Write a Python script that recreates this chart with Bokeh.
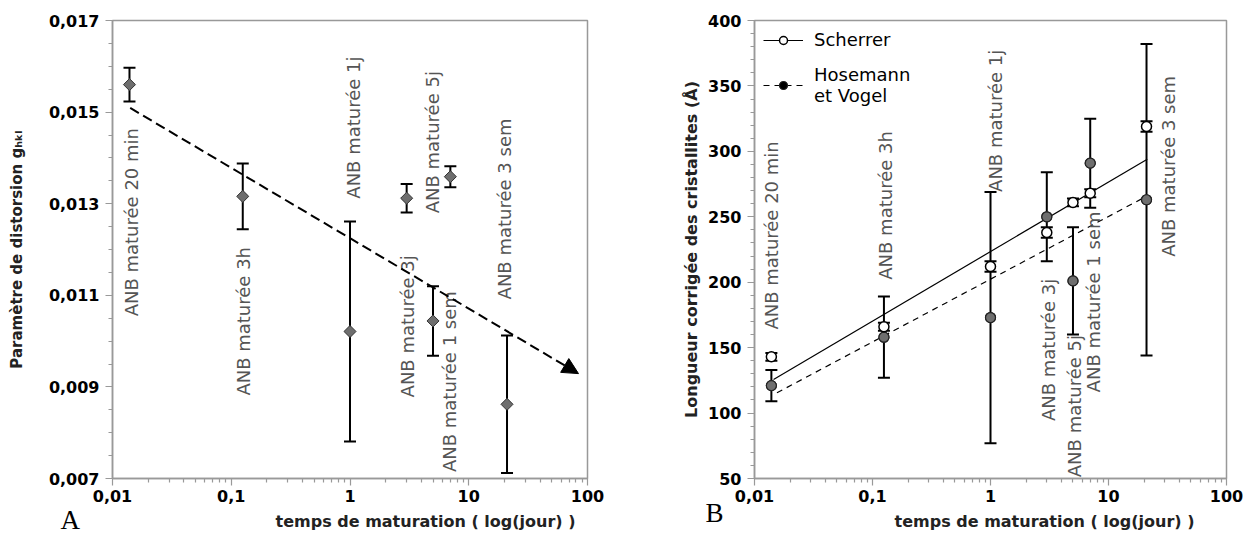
import numpy as np
from bokeh.plotting import figure
from bokeh.layouts import row
from bokeh.models import (ColumnDataSource, Whisker, TeeHead, FixedTicker, CustomJSTickFormatter,
                          Range1d, Label, Title, Arrow, NormalHead, Legend, LegendItem)
from bokeh.embed import file_html
from bokeh.resources import INLINE
from bokeh.core.properties import value

# ---------------- data : panel A ----------------
a_time = [0.0139, 0.125, 1.0, 3.0, 5.0, 7.0, 21.0]
a_g = [0.01560, 0.01316, 0.01021, 0.01312, 0.01044, 0.01359, 0.00862]
a_err = [0.00037, 0.00072, 0.00240, 0.00031, 0.00076, 0.00023, 0.00150]
a_trend_x = [0.0141, 84.0]
a_trend_y = [0.01509, 0.00929]
a_labels = ["ANB maturée 20 min", "ANB maturée 3h", "ANB maturée 1j", "ANB maturée 3j",
            "ANB maturée 5j", "ANB maturée 1 sem", "ANB maturée 3 sem"]
a_label_x = [0.01445, 0.1261, 1.07, 3.05, 4.92, 6.88, 20.0]
a_label_y = [0.01054, 0.00881, 0.01311, 0.00877, 0.01279, 0.00714, 0.01091]
a_yticks = [0.007, 0.009, 0.011, 0.013, 0.015, 0.017]

# ---------------- data : panel B ----------------
b_time = [0.0139, 0.125, 1.0, 3.0, 5.0, 7.0, 21.0]
scherrer = [143, 166, 212, 238, 261, 268, 319]
scherrer_err = [3, 3, 4, 4, 3, 3, 4]
hosemann = [121, 158, 173, 250, 201, 291, 263]
hosemann_err = [12, 31, 96, 34, 41, 34, 119]
sch_fit_x = [0.0145, 21.3]
sch_fit_y = [125.7, 294.0]
hos_fit_x = [0.0155, 21.3]
hos_fit_y = [115.5, 266.0]
b_labels = ["ANB maturée 20 min", "ANB maturée 3h", "ANB maturée 1j", "ANB maturée 3j",
            "ANB maturée 5j", "ANB maturée 1 sem", "ANB maturée 3 sem"]
b_label_x = [0.01405, 0.1284, 1.10, 3.10, 5.15, 7.46, 32.3]
b_label_y = [163.8, 201.9, 269.0, 93.9, 51.0, 115.8, 219.4]
b_yticks = [50, 100, 150, 200, 250, 300, 350, 400]

x_ticks = [0.01, 0.1, 1, 10, 100]
x_minor = [k * 10.0 ** e for e in range(-2, 2) for k in range(2, 10)]

GRAY = "#999999"
TXT = "#555555"
SANS = "DejaVu Sans"


def style(p, yticks, yminor, yfmt, ylabel, ylabel_size, ylabel_standoff, title_offset):
    p.xaxis.ticker = FixedTicker(ticks=x_ticks, minor_ticks=x_minor)
    p.xaxis.formatter = CustomJSTickFormatter(
        code="return tick >= 1 ? tick.toFixed(0) : tick.toString().replace('.', ',');")
    p.yaxis.ticker = FixedTicker(ticks=yticks, minor_ticks=yminor)
    p.yaxis.formatter = CustomJSTickFormatter(code=yfmt)
    for ax in (p.xaxis[0], p.yaxis[0]):
        ax.axis_line_color = GRAY
        ax.axis_line_width = 1.5
        ax.major_tick_line_color = GRAY
        ax.minor_tick_line_color = GRAY
        ax.major_tick_line_width = 1.2
        ax.minor_tick_line_width = 1.2
        ax.major_tick_out = 7
        ax.major_tick_in = 0
        ax.minor_tick_out = 4
        ax.minor_tick_in = 0
        ax.major_label_text_font = SANS
        ax.major_label_text_font_style = "bold"
        ax.major_label_text_font_size = "16px"
        ax.major_label_text_color = "black"
    p.xaxis.major_label_standoff = 4
    p.yaxis.major_label_standoff = 6
    p.yaxis.axis_label = ylabel
    p.yaxis.axis_label_text_font = SANS
    p.yaxis.axis_label_text_font_style = "bold"
    p.yaxis.axis_label_text_font_size = ylabel_size
    p.yaxis.axis_label_text_color = "#222222"
    p.yaxis.axis_label_standoff = ylabel_standoff
    p.xgrid.visible = False
    p.ygrid.visible = False
    p.outline_line_color = GRAY
    p.outline_line_width = 1.5
    p.add_layout(Title(text="temps de maturation ( log(jour) )", align="right",
                       text_font=SANS, text_font_style="bold", text_font_size="16px",
                       text_color="#222222", offset=title_offset), "below")


def frac_to_data(p, fx, fy):
    lx0, lx1 = np.log10(p.x_range.start), np.log10(p.x_range.end)
    y0, y1 = p.y_range.start, p.y_range.end
    return 10 ** (lx0 + fx * (lx1 - lx0)), y0 + fy * (y1 - y0)


# ---------------- panel A ----------------
pa = figure(width=615, height=537, x_axis_type="log", output_backend="svg",
            toolbar_location=None, x_range=Range1d(0.01, 100), y_range=Range1d(0.007, 0.017),
            min_border_left=112, min_border_right=28, min_border_top=20, min_border_bottom=59)
style(pa, a_yticks, list(np.round(np.arange(0.007, 0.01701, 0.0005), 4)),
      "return tick.toFixed(3).replace('.', ',');",
      "Paramètre de distorsion gₕₖₗ", "15px", 20, 12)

srcA = ColumnDataSource(dict(x=a_time, y=a_g,
                             lo=[v - e for v, e in zip(a_g, a_err)],
                             hi=[v + e for v, e in zip(a_g, a_err)]))
pa.add_layout(Arrow(x_start=a_trend_x[0], y_start=a_trend_y[0], x_end=a_trend_x[1], y_end=a_trend_y[1],
                    line_color="black", line_width=2, line_dash="10 5",
                    end=NormalHead(size=16, fill_color="black", line_color="black", line_width=1)))
pa.add_layout(Whisker(source=srcA, base="x", lower="lo", upper="hi", line_color="black", line_width=2,
                      lower_head=TeeHead(size=12, line_width=2, line_color="black"),
                      upper_head=TeeHead(size=12, line_width=2, line_color="black")))
pa.scatter("x", "y", source=srcA, marker="square", angle=np.pi / 4, size=8.5,
           fill_color="#6e6e6e", line_color="#333333", line_width=1)
pa.text(a_label_x, a_label_y, text=a_labels, angle=np.pi / 2, text_align="left",
        text_baseline="middle", text_font=value(SANS), text_font_size="18px", text_color=TXT)
ax_, ay_ = frac_to_data(pa, -52 / 475, -41 / 458)
pa.add_layout(Label(x=ax_, y=ay_, text="A", text_font="Liberation Serif", text_font_size="27px",
                    text_color="black", text_align="left", text_baseline="alphabetic"), "right")

# ---------------- panel B ----------------
pb = figure(width=630, height=537, x_axis_type="log", output_backend="svg",
            toolbar_location=None, x_range=Range1d(0.01, 100), y_range=Range1d(50, 400),
            min_border_left=139, min_border_right=19, min_border_top=20, min_border_bottom=58)
style(pb, b_yticks, list(range(50, 401, 10)), "return tick.toFixed(0);",
      "Longueur corrigée des cristallites (Å)", "16px", 4, 32)

srcS = ColumnDataSource(dict(x=b_time, y=scherrer,
                             lo=[v - e for v, e in zip(scherrer, scherrer_err)],
                             hi=[v + e for v, e in zip(scherrer, scherrer_err)]))
srcH = ColumnDataSource(dict(x=b_time, y=hosemann,
                             lo=[v - e for v, e in zip(hosemann, hosemann_err)],
                             hi=[v + e for v, e in zip(hosemann, hosemann_err)]))
sch_line = pb.line(sch_fit_x, sch_fit_y, line_color="black", line_width=1.2)
hos_line = pb.line(hos_fit_x, hos_fit_y, line_color="black", line_width=1.2, line_dash="6 5")
for src in (srcH, srcS):
    pb.add_layout(Whisker(source=src, base="x", lower="lo", upper="hi", line_color="black", line_width=2,
                          lower_head=TeeHead(size=12, line_width=2, line_color="black"),
                          upper_head=TeeHead(size=12, line_width=2, line_color="black")))
# black markers (legend symbol) fully covered by the grey markers drawn on top
hos_black = pb.scatter("x", "y", source=srcH, marker="circle", size=10, fill_color="black",
                       line_color="#222222", line_width=1.2)
pb.scatter("x", "y", source=srcH, marker="circle", size=10, fill_color="#6e6e6e",
           line_color="#222222", line_width=1.2)
sch_pts = pb.scatter("x", "y", source=srcS, marker="circle", size=10, fill_color="white",
                     line_color="black", line_width=1.5)
pb.text(b_label_x, b_label_y, text=b_labels, angle=np.pi / 2, text_align="left",
        text_baseline="middle", text_font=value(SANS), text_font_size="18px", text_color=TXT)

leg = Legend(items=[LegendItem(label="Scherrer", renderers=[sch_line, sch_pts]),
                    LegendItem(label="Hosemann\net Vogel", renderers=[hos_line, hos_black])],
             location="top_left", border_line_color=None, background_fill_alpha=0,
             label_text_font=SANS, label_text_font_size="18px", label_text_color="black",
             glyph_width=40, label_standoff=11, spacing=14, padding=7, margin=9)
pb.add_layout(leg)
bx_, by_ = frac_to_data(pb, -49 / 472, -35 / 459)
pb.add_layout(Label(x=bx_, y=by_, text="B", text_font="Liberation Serif", text_font_size="27px",
                    text_color="black", text_align="left", text_baseline="alphabetic"), "left")

layout = row(pa, pb, spacing=0)
open("out.html", "w").write(file_html(layout, INLINE))
